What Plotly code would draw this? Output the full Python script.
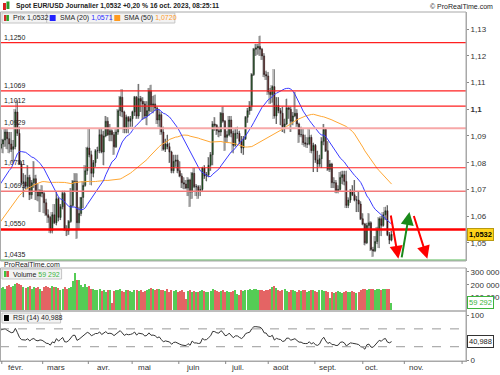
import plotly.graph_objects as go
import pandas as pd

# ---------------- DATA ----------------
# daily closes before the visible window (used only for SMA / RSI warm-up)
prior_closes = [1.0020,1.0075,1.0010,1.0210,1.0355,1.0325,1.0355,1.0395,1.0365,1.0325,1.0240,1.0305,1.0395,1.0410,1.0400,1.0340,1.0330,1.0405,
1.0525,1.0535,1.0490,1.0465,1.0505,1.0555,1.0535,1.0540,1.0630,1.0680,1.0625,1.0585,1.0605,1.0625,1.0605,1.0595,1.0615,1.0640,1.0640,1.0610,1.0660,1.0705,
1.0670,1.0545,1.0605,1.0520,1.0645,1.0730,1.0735,1.0760,1.0855,1.0830,1.0820,1.0790,1.0795,1.0830]

opens = [
1.0830,1.0855,1.0870,1.0885,1.0915,1.0890,1.0870,1.0850,
1.0860,1.0990,1.0910,1.0795,1.0725,1.0728,1.0712,1.0745,1.0680,1.0725,
1.0740,1.0690,1.0675,1.0695,1.0685,1.0650,1.0605,1.0595,1.0545,1.0605,
1.0575,1.0665,1.0595,1.0635,1.0685,1.0550,1.0545,1.0580,1.0640,1.0730,
1.0730,1.0575,1.0610,1.0670,1.0715,1.0770,1.0855,1.0830,1.0760,1.0800,
1.0845,1.0845,1.0905,
1.0840,1.0900,1.0955,1.0905,1.0920,1.0905,1.0860,1.0915,1.0995,1.1045,
1.0990,1.0925,1.0970,1.0955,1.0965,1.0990,1.1045,1.0975,1.1040,1.1030,
1.1020,1.0975,1.0995,1.1070,1.1015,1.1020,1.1005,1.0960,1.0980,1.0915,
1.0850,1.0870,1.0860,1.0840,1.0770,1.0805,1.0810,1.0770,1.0750,1.0725,
1.0720,1.0705,1.0735,
1.0690,1.0760,1.0710,1.0710,1.0695,1.0700,1.0780,1.0750,1.0755,1.0790,
1.0830,1.0945,1.0940,1.0920,1.0915,1.0985,1.0955,1.0895,1.0905,1.0960,
1.0910,1.0865,
1.0910,1.0910,1.0880,1.0855,1.0890,1.0970,1.0995,1.1010,1.1130,1.1225,
1.1230,1.1235,1.1225,1.1200,1.1130,1.1125,1.1065,1.1055,1.1085,1.0975,
1.1015,
1.0995,1.0985,1.0935,1.0945,1.1005,1.1000,1.0955,1.0975,1.0985,1.0945,
1.0905,1.0905,1.0875,1.0870,1.0870,1.0895,1.0845,1.0865,1.0810,1.0795,
1.0815,1.0880,1.0925,
1.0845,1.0775,1.0795,1.0725,1.0725,1.0695,1.0700,1.0745,1.0755,1.0730,
1.0640,1.0660,1.0690,1.0680,1.0660,1.0660,1.0645,1.0590,1.0570,1.0500,
1.0565,
1.0575,1.0475,1.0470,1.0505,1.0550,1.0590,1.0565,1.0605,1.0620,1.0530,1.0510]

highs = [
1.0860,1.0925,1.0890,1.0930,1.0930,1.0915,1.0915,1.0885,
1.1000,1.1033,1.0935,1.0805,1.0760,1.0755,1.0790,1.0755,1.0735,1.0805,
1.0755,1.0720,1.0700,1.0715,1.0695,1.0665,1.0625,1.0600,1.0615,1.0645,
1.0690,1.0670,1.0645,1.0695,1.0695,1.0565,1.0585,1.0705,1.0735,1.0760,
1.0760,1.0635,1.0670,1.0730,1.0790,1.0860,1.0930,1.0845,1.0810,1.0850,
1.0860,1.0925,1.0925,
1.0920,1.0975,1.0970,1.0945,1.0925,1.0915,1.0925,1.1000,1.1050,1.1075,
1.0995,1.0980,1.0975,1.0975,1.0995,1.1050,1.1050,1.1095,1.1050,1.1045,
1.1030,1.1030,1.1080,1.1092,1.1050,1.1055,1.1010,1.1000,1.0990,1.0935,
1.0890,1.0905,1.0875,1.0845,1.0830,1.0830,1.0830,1.0805,1.0760,1.0745,
1.0735,1.0745,1.0740,
1.0765,1.0780,1.0720,1.0715,1.0715,1.0785,1.0790,1.0765,1.0820,1.0840,
1.0955,1.0970,1.0945,1.0935,1.0990,1.1010,1.0960,1.0920,1.0975,1.0975,
1.0920,1.0925,
1.0935,1.0920,1.0900,1.0900,1.0975,1.1005,1.1030,1.1135,1.1230,1.1245,
1.1245,1.1276,1.1230,1.1210,1.1145,1.1140,1.1080,1.1090,1.1150,1.1045,
1.1045,
1.1005,1.1010,1.0965,1.1040,1.1010,1.1010,1.0990,1.1065,1.1000,1.0950,
1.0935,1.0930,1.0905,1.0895,1.0925,1.0905,1.0875,1.0870,1.0845,1.0830,
1.0895,1.0945,1.0930,
1.0880,1.0810,1.0800,1.0745,1.0735,1.0715,1.0765,1.0770,1.0770,1.0770,
1.0670,1.0700,1.0715,1.0735,1.0675,1.0690,1.0655,1.0610,1.0575,1.0575,
1.0610,
1.0580,1.0485,1.0525,1.0560,1.0595,1.0600,1.0615,1.0635,1.0640,1.0540,1.0545]

lows = [
1.0805,1.0850,1.0835,1.0860,1.0850,1.0835,1.0840,1.0800,
1.0850,1.0900,1.0795,1.0715,1.0670,1.0700,1.0700,1.0660,1.0665,1.0705,
1.0660,1.0655,1.0615,1.0670,1.0610,1.0600,1.0575,1.0535,1.0535,1.0570,
1.0565,1.0580,1.0585,1.0625,1.0545,1.0525,1.0530,1.0575,1.0635,1.0690,
1.0516,1.0550,1.0600,1.0630,1.0710,1.0755,1.0820,1.0715,1.0745,1.0785,
1.0815,1.0835,1.0835,
1.0790,1.0895,1.0900,1.0880,1.0880,1.0830,1.0855,1.0905,1.0975,1.0970,
1.0910,1.0910,1.0910,1.0935,1.0935,1.0975,1.0965,1.0965,1.0990,1.0960,
1.0965,1.0940,1.0975,1.0990,1.0985,1.0995,1.0945,1.0935,1.0905,1.0845,
1.0840,1.0850,1.0800,1.0760,1.0760,1.0785,1.0760,1.0745,1.0705,1.0700,
1.0700,1.0675,1.0635,
1.0665,1.0705,1.0675,1.0665,1.0675,1.0690,1.0740,1.0730,1.0745,1.0770,
1.0790,1.0920,1.0905,1.0895,1.0900,1.0950,1.0845,1.0875,1.0900,1.0895,
1.0835,1.0860,
1.0890,1.0870,1.0835,1.0830,1.0885,1.0950,1.0980,1.0995,1.1125,1.1200,
1.1205,1.1200,1.1185,1.1120,1.1110,1.1055,1.1020,1.1025,1.0965,1.0945,
1.0985,
1.0940,1.0915,1.0910,1.0940,1.0965,1.0915,1.0940,1.0970,1.0935,1.0875,
1.0895,1.0865,1.0860,1.0855,1.0865,1.0835,1.0765,1.0800,1.0765,1.0785,
1.0780,1.0865,1.0840,
1.0770,1.0765,1.0705,1.0705,1.0685,1.0685,1.0695,1.0720,1.0715,1.0630,
1.0630,1.0650,1.0675,1.0655,1.0615,1.0615,1.0585,1.0565,1.0490,1.0495,
1.0550,
1.0470,1.0448,1.0465,1.0495,1.0480,1.0525,1.0560,1.0585,1.0525,1.0495,1.0505]

closes = [
1.0855,1.0870,1.0885,1.0915,1.0890,1.0870,1.0850,1.0860,
1.0990,1.0910,1.0795,1.0725,1.0728,1.0712,1.0745,1.0680,1.0725,1.0740,
1.0690,1.0675,1.0695,1.0685,1.0650,1.0605,1.0595,1.0545,1.0605,1.0575,
1.0665,1.0595,1.0635,1.0685,1.0550,1.0545,1.0580,1.0640,1.0730,1.0730,
1.0575,1.0610,1.0670,1.0715,1.0770,1.0855,1.0830,1.0760,1.0800,1.0845,
1.0845,1.0905,1.0840,
1.0900,1.0955,1.0905,1.0920,1.0905,1.0860,1.0915,1.0995,1.1045,1.0990,
1.0925,1.0970,1.0955,1.0965,1.0990,1.1045,1.0975,1.1040,1.1030,1.1020,
1.0975,1.0995,1.1070,1.1015,1.1020,1.1005,1.0960,1.0980,1.0915,1.0850,
1.0870,1.0860,1.0840,1.0770,1.0805,1.0810,1.0770,1.0750,1.0725,1.0720,
1.0705,1.0735,1.0690,
1.0760,1.0710,1.0710,1.0695,1.0700,1.0780,1.0750,1.0755,1.0790,1.0830,
1.0945,1.0940,1.0920,1.0915,1.0985,1.0955,1.0895,1.0905,1.0960,1.0910,
1.0865,1.0910,
1.0910,1.0880,1.0855,1.0890,1.0970,1.0995,1.1010,1.1130,1.1225,1.1230,
1.1235,1.1225,1.1200,1.1130,1.1125,1.1065,1.1055,1.1085,1.0975,1.1015,
1.0995,
1.0985,1.0935,1.0945,1.1005,1.1000,1.0955,1.0975,1.0985,1.0945,1.0905,
1.0905,1.0875,1.0870,1.0870,1.0895,1.0845,1.0865,1.0810,1.0795,1.0815,
1.0880,1.0925,1.0845,
1.0775,1.0795,1.0725,1.0725,1.0695,1.0700,1.0745,1.0755,1.0730,1.0640,
1.0660,1.0690,1.0680,1.0660,1.0660,1.0645,1.0590,1.0570,1.0500,1.0565,
1.0575,
1.0475,1.0470,1.0505,1.0550,1.0590,1.0565,1.0605,1.0620,1.0530,1.0510,1.0532]

volumes = [
185000,175000,180000,170000,190000,195000,180000,190000,
205000,215000,205000,195000,180000,175000,185000,190000,170000,180000,
175000,185000,170000,150000,180000,190000,185000,175000,190000,180000,185000,
175000,160000,170000,180000,165000,175000,185000,
230000,290000,240000,235000,
195000,185000,205000,180000,190000,170000,165000,160000,
155000,165000,150000,160000,145000,160000,155000,56000,
150000,160000,155000,165000,150000,145000,155000,160000,150000,145000,155000,160000,150000,155000,145000,150000,160000,
170000,175000,165000,160000,170000,165000,
160000,155000,150000,165000,145000,155000,150000,160000,145000,150000,155000,140000,
85000,
150000,155000,145000,150000,140000,145000,150000,160000,150000,145000,140000,150000,165000,160000,150000,145000,150000,155000,145000,150000,145000,140000,150000,155000,
128000,120000,
155000,150000,160000,155000,165000,160000,170000,165000,160000,155000,160000,150000,155000,160000,165000,
185000,190000,175000,
160000,150000,155000,165000,150000,145000,155000,160000,150000,145000,155000,150000,160000,155000,145000,150000,160000,155000,150000,145000,155000,160000,150000,
150000,145000,
95000,
140000,135000,145000,150000,140000,135000,145000,150000,140000,145000,150000,140000,135000,145000,
160000,165000,170000,160000,165000,170000,165000,160000,170000,165000,160000,165000,170000,165000,
170000,
59292]

month_labels = ["févr.", "mars", "avr.", "mai", "juin", "juil.", "août", "sept.", "oct.", "nov."]
month_idx = [8, 28, 51, 71, 94, 116, 137, 160, 181, 203]
tick_idx = [1.4, 21.3, 43.5, 64.8, 87.5, 110.3, 131.0, 153.7, 177.0, 197.2, 225.3]

levels = [1.1250, 1.1069, 1.1012, 1.0929, 1.0781, 1.0693, 1.0550, 1.0435]
level_labels = ["1,1250", "1,1069", "1,1012", "1,0929", "1,0781", "1,0693", "1,0550", "1,0435"]

# arrows drawn on the chart (start -> tip), in bar index / price
arrow_x0 = [190.5, 195.8, 201.6]
arrow_y0 = [1.0608, 1.0440, 1.0606]
arrow_x1 = [194.3, 199.7, 208.4]
arrow_y1 = [1.0440, 1.0615, 1.0440]

y_ticks = [1.05, 1.06, 1.07, 1.08, 1.09, 1.10, 1.11, 1.12, 1.13]
y_ticktext = ["1,05", "1,06", "1,07", "1,08", "1,09", "<b>1,1</b>", "1,11", "1,12", "1,13"]
vol_ticks = [100000, 200000, 300000]
vol_ticktext = ["100 000", "200 000", "300 000"]
rsi_ticks = [0, 50, 100]

last_price_text = "1,0532"
sma20_text = "1,0571"
sma50_text = "1,0720"
vol_text = "59 292"
rsi_text = "40,988"
title_text = "Spot EUR/USD Journalier 1,0532 +0,20 % 16 oct. 2023, 08:25:11"

# ---------------- STYLES ----------------
level_colors = ["#ff2020", "#ff2020", "#ff2020", "#f7a8a8", "#ff2020", "#f37a7a", "#ff0000", "#8fd08f"]
level_widths = [1.2, 1.2, 1.2, 2.2, 1.2, 1.6, 2.6, 1.6]
arrow_colors = ["#ff0000", "#1a8a1a", "#ff0000"]
FONT = "Liberation Sans, Arial, sans-serif"

W, H = 500, 375
ML, MR, MT, MB = 0, 31, 12, 14
PW, PH = W - ML - MR, H - MT - MB


def PX(x):
    return (x - ML) / PW


def PY(y):
    return (H - MB - y) / PH


# ---------------- INDICATORS ----------------
n = len(closes)
xs = list(range(n))
all_close = pd.Series(prior_closes + closes)
sma20 = all_close.rolling(20).mean().iloc[-n:].tolist()
sma50 = all_close.rolling(50).mean().iloc[-n:].tolist()
delta = all_close.diff()
gain = delta.clip(lower=0).ewm(alpha=1 / 14, adjust=False).mean()
loss = (-delta.clip(upper=0)).ewm(alpha=1 / 14, adjust=False).mean()
rsi = (100 - 100 / (1 + gain / loss)).iloc[-n:].tolist()

fig = go.Figure()

# grey shadows behind candles
fig.add_trace(go.Bar(
    x=[i - 0.45 for i in xs], y=[h - l for h, l in zip(highs, lows)], base=lows,
    width=0.5, marker=dict(color="#c8c8c8", line=dict(width=0)),
    xaxis="x", yaxis="y", showlegend=False, hoverinfo="skip"))

fig.add_trace(go.Candlestick(
    x=xs, open=opens, high=highs, low=lows, close=closes,
    increasing=dict(fillcolor="#157515", line=dict(color="#1a1a1a", width=0.6)),
    decreasing=dict(fillcolor="#820f0f", line=dict(color="#1a1a1a", width=0.6)),
    whiskerwidth=0, xaxis="x", yaxis="y", showlegend=False))

fig.add_trace(go.Scatter(x=xs, y=sma50, mode="lines", line=dict(color="#ffa733", width=1),
                         xaxis="x", yaxis="y", showlegend=False))
fig.add_trace(go.Scatter(x=xs, y=sma20, mode="lines", line=dict(color="#3b3bff", width=1),
                         xaxis="x", yaxis="y", showlegend=False))

vol_colors = ["#55cc55" if c >= o else "#e46464" for o, c in zip(opens, closes)]
fig.add_trace(go.Bar(x=xs, y=volumes, width=0.62, marker=dict(color=vol_colors, line=dict(width=0)),
                     xaxis="x2", yaxis="y2", showlegend=False))

fig.add_trace(go.Scatter(x=xs, y=rsi, mode="lines", line=dict(color="#333333", width=1),
                         xaxis="x3", yaxis="y3", showlegend=False))

xr = [0.53, 227.2]
tickfont = dict(family=FONT, size=8, color="#333333")
SMALL = 7

shapes = []
annotations = []

# horizontal levels
for lv, col, wd, lab in zip(levels, level_colors, level_widths, level_labels):
    shapes.append(dict(type="line", xref="x domain", yref="y", x0=0, x1=1, y0=lv, y1=lv,
                       line=dict(color=col, width=wd), layer="above"))
    annotations.append(dict(xref="paper", yref="y", x=PX(2), y=lv, text=lab, showarrow=False,
                            xanchor="left", yanchor="bottom", yshift=0,
                            font=dict(family=FONT, size=SMALL, color="#222222")))

# RSI dashed lines
for lv in [30, 70]:
    shapes.append(dict(type="line", xref="x3 domain", yref="y3", x0=0, x1=1, y0=lv, y1=lv,
                       line=dict(color="#9a9a9a", width=1, dash="dash")))

# panel frames
for top, bot in [(12, 261), (268, 311), (311, 361)]:
    shapes.append(dict(type="rect", xref="paper", yref="paper", x0=PX(0.5), x1=PX(469), y0=PY(bot), y1=PY(top),
                       line=dict(color="#a8a8a8", width=1), fillcolor="rgba(0,0,0,0)", layer="above"))

# bottom ticks
for t in tick_idx:
    shapes.append(dict(type="line", xref="x3", yref="paper", x0=t, x1=t, y0=PY(361), y1=PY(364),
                       line=dict(color="#888888", width=1)))

# month labels
for t, lab in zip(month_idx, month_labels):
    annotations.append(dict(xref="x3", yref="paper", x=t, y=PY(367.5), text=lab, showarrow=False,
                            xanchor="center", yanchor="middle",
                            font=dict(family=FONT, size=8, color="#333333")))

# title icon
shapes.append(dict(type="rect", xref="paper", yref="paper", x0=PX(3), x1=PX(6), y0=PY(10), y1=PY(3),
                   fillcolor="#d62020", line=dict(width=0)))
shapes.append(dict(type="rect", xref="paper", yref="paper", x0=PX(6.5), x1=PX(9.5), y0=PY(9), y1=PY(1.5),
                   fillcolor="#2a9a2a", line=dict(width=0)))


def legend_box(x0, x1, y0, y1, icons, text, tx):
    shapes.append(dict(type="rect", xref="paper", yref="paper", x0=PX(x0), x1=PX(x1), y0=PY(y1), y1=PY(y0),
                       fillcolor="#f3f3f3", line=dict(color="#c4c4c4", width=1), layer="above"))
    for (ix0, ix1, col) in icons:
        shapes.append(dict(type="rect", xref="paper", yref="paper", x0=PX(ix0), x1=PX(ix1),
                           y0=PY(y1 - 2), y1=PY(y0 + 2), fillcolor=col, line=dict(width=0), layer="above"))
    annotations.append(dict(xref="paper", yref="paper", x=PX(tx), y=PY((y0 + y1) / 2), text=text,
                            showarrow=False, xanchor="left", yanchor="middle",
                            font=dict(family=FONT, size=SMALL, color="#222222")))


legend_box(2, 47, 13, 23, [(4, 6.5, "#d42a2a"), (6.5, 9, "#2aa52a")], "Prix " + last_price_text, 11)
legend_box(47, 112, 13, 23, [(50, 56, "#2020ff")],
           "SMA (20) <span style='color:#2a2aff'>" + sma20_text + "</span>", 58)
legend_box(112, 176, 13, 23, [(115, 121, "#ff9a1f")],
           "SMA (50) <span style='color:#ff9a1f'>" + sma50_text + "</span>", 123)
legend_box(2, 62, 269, 279, [(4, 6.5, "#3ec43e"), (6.5, 9, "#e04848")],
           "Volume <span style='color:#3cb43c'>" + vol_text + "</span>", 11)
legend_box(2, 61, 313, 323, [(4, 9, "#000000")], "RSI (14) " + rsi_text, 11)

# title & copyright
annotations.append(dict(xref="paper", yref="paper", x=PX(14), y=PY(6), text="<b>" + title_text + "</b>",
                        showarrow=False, xanchor="left", yanchor="middle",
                        font=dict(family=FONT, size=6.8, color="#222222")))
annotations.append(dict(xref="paper", yref="paper", x=PX(498), y=PY(6), text="© ProRealTime.com",
                        showarrow=False, xanchor="right", yanchor="middle",
                        font=dict(family=FONT, size=SMALL, color="#222222")))
annotations.append(dict(xref="paper", yref="paper", x=PX(2), y=PY(264.5), text="ProRealTime.com",
                        showarrow=False, xanchor="left", yanchor="middle",
                        font=dict(family=FONT, size=SMALL, color="#222222")))

# value tags on the right axis
annotations.append(dict(xref="paper", yref="y", x=PX(470), y=closes[-1], text="<b>" + last_price_text + "</b>",
                        showarrow=False, xanchor="left", yanchor="middle", bgcolor="#ffd31a",
                        bordercolor="#b89a10", borderwidth=1, borderpad=1,
                        font=dict(family=FONT, size=7.5, color="#000000")))
annotations.append(dict(xref="paper", yref="y2", x=PX(470), y=volumes[-1], text=vol_text,
                        showarrow=False, xanchor="left", yanchor="middle", bgcolor="#ffffff",
                        bordercolor="#3cb43c", borderwidth=1, borderpad=1,
                        font=dict(family=FONT, size=7.5, color="#3cb43c")))
annotations.append(dict(xref="paper", yref="y3", x=PX(470), y=rsi[-1], text=rsi_text,
                        showarrow=False, xanchor="left", yanchor="middle", bgcolor="#ffffff",
                        bordercolor="#333333", borderwidth=1, borderpad=1,
                        font=dict(family=FONT, size=7.5, color="#222222")))

# arrows
for x0, y0, x1, y1, col in zip(arrow_x0, arrow_y0, arrow_x1, arrow_y1, arrow_colors):
    annotations.append(dict(xref="x", yref="y", axref="x", ayref="y", x=x1, y=y1, ax=x0, ay=y0,
                            text="", showarrow=True, arrowhead=2, arrowsize=1.3, arrowwidth=2,
                            arrowcolor=col, standoff=0, startstandoff=0))

fig.update_layout(
    width=W, height=H, margin=dict(l=ML, r=MR, t=MT, b=MB),
    paper_bgcolor="white", plot_bgcolor="white", showlegend=False,
    barmode="overlay", bargap=0,
    font=dict(family=FONT, size=8, color="#333333"),
    xaxis=dict(domain=[0, 1], range=xr, anchor="y", showticklabels=False, showgrid=False,
               zeroline=False, rangeslider=dict(visible=False), ticks=""),
    xaxis2=dict(domain=[0, 1], range=xr, anchor="y2", matches="x", showticklabels=False,
                showgrid=False, zeroline=False, ticks=""),
    xaxis3=dict(domain=[0, 1], range=xr, anchor="y3", matches="x", showticklabels=False,
                showgrid=False, zeroline=False, ticks="", showline=True, linecolor="#a8a8a8"),
    yaxis=dict(domain=[PY(261), PY(12)], range=[1.04318, 1.13644], side="right", anchor="x",
               tickvals=y_ticks, ticktext=y_ticktext, showgrid=False, zeroline=False,
               ticks="outside", ticklen=2, tickcolor="#888888", tickfont=tickfont,
               showline=True, linecolor="#a8a8a8"),
    yaxis2=dict(domain=[PY(311), PY(268)], range=[-5000, 330000], side="right", anchor="x2",
                tickvals=vol_ticks, ticktext=vol_ticktext, showgrid=False, zeroline=False,
                ticks="outside", ticklen=2, tickcolor="#888888", tickfont=tickfont,
                showline=True, linecolor="#a8a8a8"),
    yaxis3=dict(domain=[PY(361), PY(311)], range=[-2, 110], side="right", anchor="x3",
                tickvals=rsi_ticks, showgrid=False, zeroline=False,
                ticks="outside", ticklen=2, tickcolor="#888888", tickfont=tickfont,
                showline=True, linecolor="#a8a8a8"),
    shapes=shapes, annotations=annotations,
)

fig.write_html("out.html", config={"displayModeBar": False},
               post_script="document.body.style.margin='0';document.body.style.padding='0';")
